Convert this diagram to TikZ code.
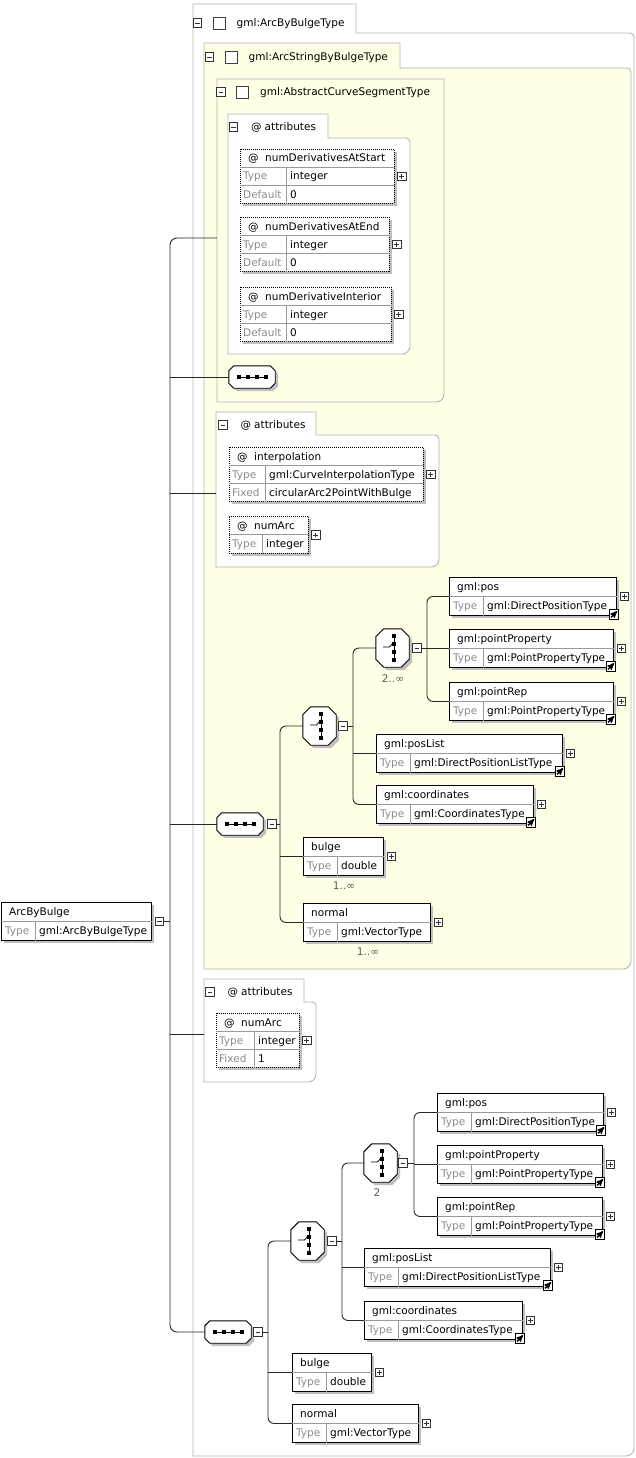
\documentclass[tikz,border=0pt]{standalone}
\usepackage{fontspec}
\setmainfont{DejaVu Sans}
\usepackage{tikz}
\usetikzlibrary{shadows, arrows, calc}
\definecolor{groupFill}{RGB}{255,255,230}
\definecolor{groupLine}{RGB}{180,180,180}
\colorlet{cellLn}{black!40}
\colorlet{lblGray}{black!45}
\colorlet{shadowGray}{black!25}
\tikzstyle{conn}=[draw=black!85, line width=0.9pt]
\tikzstyle{groupBord}=[draw=groupLine, line width=0.9pt]
\tikzstyle{txt}=[anchor=base west, inner sep=0pt, font=\fontsize{10.5}{12}\selectfont]
\tikzstyle{lblTxt}=[txt, text=lblGray]
\tikzstyle{multTxt}=[anchor=center, inner sep=0pt, text=black!65, font=\fontsize{10.5}{12}\selectfont]
\tikzstyle{boxShadow}=[drop shadow={shadow xshift=3pt, shadow yshift=-3pt, fill=shadowGray, opacity=1}]
\tikzstyle{elemBox}=[draw=black, line width=0.9pt, fill=white, inner sep=0pt, minimum height=38pt, anchor=north west, boxShadow]
\tikzstyle{attrBox}=[draw=black, line width=0.9pt, dash pattern=on 1pt off 1pt, fill=white, inner sep=0pt, anchor=north west, boxShadow]
\tikzstyle{cellLine}=[draw=cellLn, line width=0.8pt]
\tikzstyle{pmBox}=[draw=black!80, line width=0.7pt, fill=white, minimum size=8.5pt, inner sep=0pt]
\tikzstyle{plusBox}=[pmBox, path picture={
  \draw[line width=0.9pt] ([xshift=1.8pt]path picture bounding box.west) -- ([xshift=-1.8pt]path picture bounding box.east)
    ([yshift=-1.8pt]path picture bounding box.north) -- ([yshift=1.8pt]path picture bounding box.south);}]
\tikzstyle{minusBox}=[pmBox, path picture={
  \draw[line width=0.9pt] ([xshift=1.8pt]path picture bounding box.west) -- ([xshift=-1.8pt]path picture bounding box.east);}]
\tikzstyle{chkBox}=[draw=black!75, line width=0.8pt, fill=white, minimum size=12pt, inner sep=0pt]
\tikzstyle{refBox}=[draw=black, line width=0.8pt, fill=white, minimum size=9.5pt, inner sep=0pt, path picture={
  \draw[line width=1.4pt, -stealth'] ([xshift=1.8pt,yshift=1.8pt]path picture bounding box.south west) -- ([xshift=-1.5pt,yshift=-1.5pt]path picture bounding box.north east);}]
\tikzstyle{seqBox}=[rectangle, inner sep=0pt, minimum width=46pt, minimum height=22pt]
\tikzstyle{choiceBox}=[rectangle, inner sep=0pt, minimum width=33pt, minimum height=38pt]
\tikzstyle{compLine}=[draw=black, line width=0.9pt, fill=white, boxShadow]

% type / group containers
\newcommand{\typeGroup}[7]{%
  \filldraw[groupBord, fill=#7] (#1,#2) -- (#3,#2) -- (#3,#4) [rounded corners=4pt] -- (#5,#4)
    [rounded corners=8pt] -- (#5,#6) [sharp corners] -- (#1,#6) -- cycle;}
\newcommand{\tabHead}[4]{%
  \node[minusBox] (#1-x) at (#2,#3) {};
  \node[chkBox] (#1-c) at ([xshift=21.5pt]#1-x.center) {};
  \node[txt] (#1-t) at ([xshift=39pt,yshift=-3.8pt]#1-x.center) {#4};}
\newcommand{\attrHead}[3]{%
  \node[minusBox] (#1-x) at (#2,#3) {};
  \node[txt] (#1-a) at ([xshift=17.5pt,yshift=-3.8pt]#1-x.center) {@};
  \node[txt] (#1-t) at ([xshift=31pt,yshift=-3.8pt]#1-x.center) {attributes};}
% elements
\newcommand{\elem}[7]{%
  \node[elemBox, minimum width=#4pt] (#1) at (#2,#3) {};
  \draw[cellLine] ([yshift=-19pt]#1.north west) -- ([yshift=-19pt]#1.north east)
    ([xshift=34pt,yshift=-19pt]#1.north west) -- ([xshift=34pt]#1.south west);
  \node[txt] (#1-n) at ([xshift=8pt,yshift=-13.5pt]#1.north west) {#5};
  \node[lblTxt] (#1-l) at ([xshift=4pt,yshift=-32.5pt]#1.north west) {Type};
  \node[txt] (#1-t) at ([xshift=38pt,yshift=-32.5pt]#1.north west) {#6};
  \node[#7] (#1-x) at ([xshift=7.5pt]#1.east) {};}
\newcommand{\refmark}[1]{\node[refBox] (#1-r) at ([xshift=-3pt,yshift=1.5pt]#1.south east) {};}
% attributes
\newcommand{\attrib}[9]{%
  \node[attrBox, minimum width=#4pt, minimum height=54pt] (#1) at (#2,#3) {};
  \draw[cellLine] ([yshift=-18pt]#1.north west) -- ([yshift=-18pt]#1.north east)
    ([yshift=-36pt]#1.north west) -- ([yshift=-36pt]#1.north east)
    ([xshift=#5pt,yshift=-18pt]#1.north west) -- ([xshift=#5pt]#1.south west);
  \node[txt] (#1-a) at ([xshift=8pt,yshift=-13pt]#1.north west) {@};
  \node[txt] (#1-n) at ([xshift=25pt,yshift=-13pt]#1.north west) {#6};
  \node[lblTxt] (#1-l) at ([xshift=3pt,yshift=-31pt]#1.north west) {Type};
  \node[txt] (#1-t) at ([xshift=#5pt+4pt,yshift=-31pt]#1.north west) {#7};
  \node[lblTxt] (#1-m) at ([xshift=3pt,yshift=-49pt]#1.north west) {#8};
  \node[txt] (#1-v) at ([xshift=#5pt+4pt,yshift=-49pt]#1.north west) {#9};
  \node[plusBox] (#1-x) at ([xshift=7pt]#1.east) {};}
\newcommand{\attribb}[7]{%
  \node[attrBox, minimum width=#4pt, minimum height=37pt] (#1) at (#2,#3) {};
  \draw[cellLine] ([yshift=-18pt]#1.north west) -- ([yshift=-18pt]#1.north east)
    ([xshift=#5pt,yshift=-18pt]#1.north west) -- ([xshift=#5pt]#1.south west);
  \node[txt] (#1-a) at ([xshift=8pt,yshift=-13pt]#1.north west) {@};
  \node[txt] (#1-n) at ([xshift=25pt,yshift=-13pt]#1.north west) {#6};
  \node[lblTxt] (#1-l) at ([xshift=3pt,yshift=-31pt]#1.north west) {Type};
  \node[txt] (#1-t) at ([xshift=#5pt+4pt,yshift=-31pt]#1.north west) {#7};
  \node[plusBox] (#1-x) at ([xshift=7pt]#1.east) {};}
% compositors: cut-corner outline round a node
\newcommand{\cutOutline}[2]{%
  \filldraw[compLine] ([xshift=#2]#1.north west) -- ([xshift=-#2]#1.north east)
    -- ([yshift=-#2]#1.north east) -- ([yshift=#2]#1.south east)
    -- ([xshift=-#2]#1.south east) -- ([xshift=#2]#1.south west)
    -- ([yshift=#2]#1.south west) -- ([yshift=-#2]#1.north west) -- cycle;}
\newcommand{\seqIcon}[1]{%
  \cutOutline{#1}{5pt}
  \draw[line width=1pt] ([xshift=-13.5pt]#1.center) -- ([xshift=13.5pt]#1.center);
  \foreach \dx in {-13.5,-4.5,4.5,13.5}
    {\fill ([xshift=\dx pt]#1.center) +(-2pt,-2pt) rectangle +(2pt,2pt);}}
\newcommand{\choiceIcon}[1]{%
  \cutOutline{#1}{8pt}
  \draw[line width=1pt] ([xshift=1.5pt,yshift=12pt]#1.center) -- ([xshift=1.5pt,yshift=-12pt]#1.center);
  \draw[line width=0.8pt] ([xshift=-9.5pt,yshift=1pt]#1.center) -- ([xshift=-3pt,yshift=1pt]#1.center)
    -- ([xshift=1.5pt,yshift=6pt]#1.center);
  \foreach \dy in {12,4,-4,-12}
    {\fill ([xshift=1.5pt,yshift=\dy pt]#1.center) +(-2pt,-2pt) rectangle +(2pt,2pt);}}

\begin{document}
\begin{tikzpicture}[x=1pt, y=-1pt]
  \useasboundingbox (0,0) rectangle (636,1458);

  \typeGroup{193}{4}{356}{33}{634}{1456}{white}
  \tabHead{ctA}{197.5}{23}{gml:ArcByBulgeType}
  \typeGroup{204}{43}{400}{68}{631}{969}{groupFill}
  \tabHead{ctB}{209.5}{57}{gml:ArcStringByBulgeType}
  \filldraw[groupBord, fill=groupFill] (217,79) -- (444,79) [rounded corners=8pt] -- (444,402)
    [sharp corners] -- (217,402) -- cycle;
  \tabHead{ctC}{221}{92}{gml:AbstractCurveSegmentType}

  % attributes of the curve segment
  \typeGroup{228}{114}{328}{138}{410}{354}{white}
  \attrHead{atA}{233.5}{127}
  \attrib{derS}{240}{149}{154}{46}{numDerivativesAtStart}{integer}{Default}{0}
  \attrib{derE}{240}{217}{149}{46}{numDerivativesAtEnd}{integer}{Default}{0}
  \attrib{derI}{240}{287}{151}{46}{numDerivativeInterior}{integer}{Default}{0}

  \node[seqBox] (seq1) at (252,377) {};
  \seqIcon{seq1}

  \typeGroup{216}{412}{316}{435}{439}{567}{white}
  \attrHead{atB}{223}{425}
  \attrib{interp}{229}{447}{194}{36}{interpolation}{gml:CurveInterpolationType}{Fixed}{circularArc2PointWithBulge}
  \attribb{nArcA}{229}{516}{79}{33}{numArc}{integer}

  % arc string content
  \node[seqBox] (seq2) at (240,824) {};
  \seqIcon{seq2}
  \node[minusBox] (seq2-x) at (272,824) {};
  \node[choiceBox] (ch1) at (319.5,726) {};
  \choiceIcon{ch1}
  \node[minusBox] (ch1-x) at (343,726) {};
  \node[choiceBox] (ch2) at (392.5,648) {};
  \choiceIcon{ch2}
  \node[minusBox] (ch2-x) at (417,648) {};
  \node[multTxt] (ch2-m) at (393,679) {2..∞};

  \elem{posA}{449}{577}{167}{gml:pos}{gml:DirectPositionType}{plusBox}
  \elem{ppA}{449}{629}{164}{gml:pointProperty}{gml:PointPropertyType}{plusBox}
  \elem{prA}{449}{682}{164}{gml:pointRep}{gml:PointPropertyType}{plusBox}
  \elem{plA}{376}{734}{186}{gml:posList}{gml:DirectPositionListType}{plusBox}
  \elem{coA}{376}{785}{157}{gml:coordinates}{gml:CoordinatesType}{plusBox}
  \foreach \e in {posA,ppA,prA,plA,coA} {\refmark{\e}}
  \elem{buA}{303}{837}{80}{bulge}{double}{plusBox}
  \node[multTxt] (buA-m) at (344,886) {1..∞};
  \elem{noA}{303}{903}{127}{normal}{gml:VectorType}{plusBox}
  \node[multTxt] (noA-m) at (368,952) {1..∞};

  % own attributes
  \typeGroup{204}{979}{304}{1002}{316}{1082}{white}
  \attrHead{atC}{210}{992}
  \attrib{nArcB}{216}{1013}{83}{38}{numArc}{integer}{Fixed}{1}

  % own content
  \node[seqBox] (seq3) at (228,1332) {};
  \seqIcon{seq3}
  \node[minusBox] (seq3-x) at (258,1332) {};
  \node[choiceBox] (ch3) at (307.5,1241) {};
  \choiceIcon{ch3}
  \node[minusBox] (ch3-x) at (332,1241) {};
  \node[choiceBox] (ch4) at (380.5,1163) {};
  \choiceIcon{ch4}
  \node[minusBox] (ch4-x) at (403,1163) {};
  \node[multTxt] (ch4-m) at (377,1193) {2};

  \elem{posB}{437}{1093}{166}{gml:pos}{gml:DirectPositionType}{plusBox}
  \elem{ppB}{437}{1145}{165}{gml:pointProperty}{gml:PointPropertyType}{plusBox}
  \elem{prB}{437}{1197}{165}{gml:pointRep}{gml:PointPropertyType}{plusBox}
  \elem{plB}{364}{1248}{186}{gml:posList}{gml:DirectPositionListType}{plusBox}
  \elem{coB}{364}{1301}{158}{gml:coordinates}{gml:CoordinatesType}{plusBox}
  \foreach \e in {posB,ppB,prB,plB,coB} {\refmark{\e}}
  \elem{buB}{292}{1353}{79}{bulge}{double}{plusBox}
  \elem{noB}{292}{1404}{126}{normal}{gml:VectorType}{plusBox}

  \elem{root}{1}{902}{150}{ArcByBulge}{gml:ArcByBulgeType}{minusBox}

  % connectors
  \coordinate (sp0) at (170,0);
  \coordinate (sp1) at (280,0);
  \coordinate (sp2) at (353,0);
  \coordinate (sp3) at (427,0);
  \coordinate (sp4) at (268,0);
  \coordinate (sp5) at (342,0);
  \coordinate (sp6) at (414,0);
  \coordinate (ctC-in) at (217,238);
  \coordinate (atB-in) at (216,493);
  \coordinate (atC-in) at (204,1034);

  \draw[conn, rounded corners=7pt] (ctC-in) -| (sp0 |- seq3.west) -- (seq3.west);
  \draw[conn] (root-x.east) -- (sp0 |- root-x.east);
  \foreach \t in {seq1.west, atB-in, seq2.west, atC-in}
    {\draw[conn] (\t) -- (sp0 |- \t);}

  \draw[conn] (seq2-x.east) -- (sp1 |- seq2-x.east);
  \draw[conn, rounded corners=6pt] (ch1.west) -| (sp1 |- noA.west) -- (noA.west);
  \draw[conn] (buA.west) -- (sp1 |- buA.west);
  \draw[conn] (ch1-x.east) -- (sp2 |- ch1-x.east);
  \draw[conn, rounded corners=6pt] (ch2.west) -| (sp2 |- coA.west) -- (coA.west);
  \draw[conn] (plA.west) -- (sp2 |- plA.west);
  \draw[conn] (ch2-x.east) -- (sp3 |- ch2-x.east);
  \draw[conn, rounded corners=6pt] (posA.west) -| (sp3 |- prA.west) -- (prA.west);
  \draw[conn] (ppA.west) -- (sp3 |- ppA.west);

  \draw[conn] (seq3-x.east) -- (sp4 |- seq3-x.east);
  \draw[conn, rounded corners=6pt] (ch3.west) -| (sp4 |- noB.west) -- (noB.west);
  \draw[conn] (buB.west) -- (sp4 |- buB.west);
  \draw[conn] (ch3-x.east) -- (sp5 |- ch3-x.east);
  \draw[conn, rounded corners=6pt] (ch4.west) -| (sp5 |- coB.west) -- (coB.west);
  \draw[conn] (plB.west) -- (sp5 |- plB.west);
  \draw[conn] (ch4-x.east) -- (sp6 |- ch4-x.east);
  \draw[conn, rounded corners=6pt] (posB.west) -| (sp6 |- prB.west) -- (prB.west);
  \draw[conn] (ppB.west) -- (sp6 |- ppB.west);
\end{tikzpicture}
\end{document}
